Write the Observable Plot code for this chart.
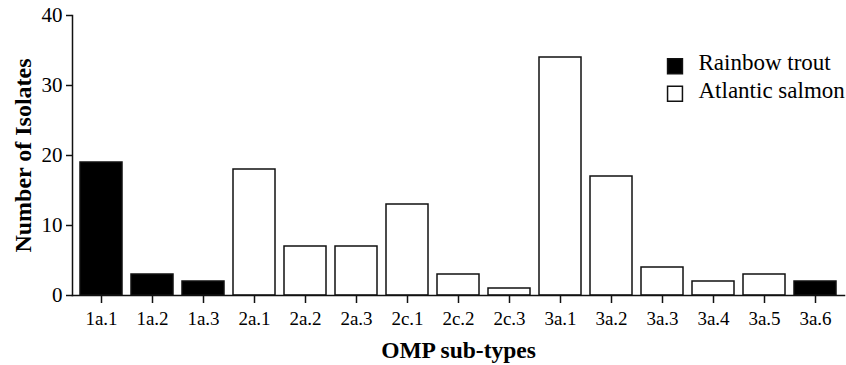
<!DOCTYPE html>
<html><head><meta charset="utf-8">
<script src="https://cdn.jsdelivr.net/npm/d3@7"></script>
<script src="https://cdn.jsdelivr.net/npm/@observablehq/plot@0.6"></script>
<style>body{margin:0;background:#fff} svg{display:block} svg text{font-family:'Liberation Serif','Times New Roman',Times,serif}</style>
</head><body><div id="chart"></div>
<script>
const subtypes = ["1a.1","1a.2","1a.3","2a.1","2a.2","2a.3","2c.1","2c.2","2c.3","3a.1","3a.2","3a.3","3a.4","3a.5","3a.6"];
const isolates = [19,3,2,18,7,7,13,3,1,34,17,4,2,3,2];
const hosts = ["Rainbow trout","Rainbow trout","Rainbow trout","Atlantic salmon","Atlantic salmon","Atlantic salmon","Atlantic salmon","Atlantic salmon","Atlantic salmon","Atlantic salmon","Atlantic salmon","Atlantic salmon","Atlantic salmon","Atlantic salmon","Rainbow trout"];
const yTicks = [0,10,20,30,40];
const legendLabels = ["Rainbow trout","Atlantic salmon"];
const legendFills = ["black","white"];
const yTitle = "Number of Isolates";
const xTitle = "OMP sub-types";

const data = subtypes.map((s,i)=>({subtype:s, n:isolates[i], host:hosts[i]}));
const font = "'Liberation Serif','Times New Roman',Times,serif";

const legendMarks = legendLabels.flatMap((label,i)=>[
  Plot.dot([label], {frameAnchor:"top-right", dx:-169.5, dy:50.8 + i*27.5, symbol:"square", r:8.4, fill:legendFills[i], stroke:"#111", strokeWidth:1.5}),
  Plot.text([label], {frameAnchor:"top-right", dx:-146, dy:54.5 + i*27.5, text:d=>d, textAnchor:"start", lineAnchor:"bottom", fontSize:23, fontFamily:font, fill:"black"})
]);

const chart = Plot.plot({
  width: 846,
  height: 365,
  marginLeft: 72,
  marginRight: 2,
  marginTop: 15,
  marginBottom: 70,
  style: {fontFamily: font, color: "black", background: "white"},
  x: {domain: subtypes, range: [73, 844], paddingInner: 0.17, paddingOuter: 0.1, label: null},
  y: {domain: [0, 40], ticks: yTicks, label: null},
  color: {domain: legendLabels, range: legendFills},
  marks: [
    Plot.barY(data, {x:"subtype", y:"n", fill:"host", stroke:"#111", strokeWidth:1.5}),
    Plot.frame({anchor:"left", stroke:"#111", strokeWidth:1.5}),
    Plot.frame({anchor:"bottom", stroke:"#111", strokeWidth:1.5}),
    Plot.axisX({tickSize:8, tickPadding:8, fontSize:19, fontFamily:font, label:null, strokeWidth:1.5, stroke:"#111"}),
    Plot.axisY({ticks:yTicks, tickSize:6, tickPadding:4, fontSize:21, fontFamily:font, label:null, strokeWidth:1.5, stroke:"#111"}),
    Plot.text([yTitle], {frameAnchor:"left", dx:-49, rotate:-90, text:d=>d, fontSize:24, fontFamily:font, fontWeight:"bold", textAnchor:"middle", lineAnchor:"middle", fill:"black"}),
    Plot.text([xTitle], {frameAnchor:"bottom", dy:62, text:d=>d, fontSize:23.5, fontFamily:font, fontWeight:"bold", textAnchor:"middle", lineAnchor:"bottom", fill:"black"}),
    ...legendMarks
  ]
});
document.getElementById("chart").append(chart);
</script>
</body></html>
